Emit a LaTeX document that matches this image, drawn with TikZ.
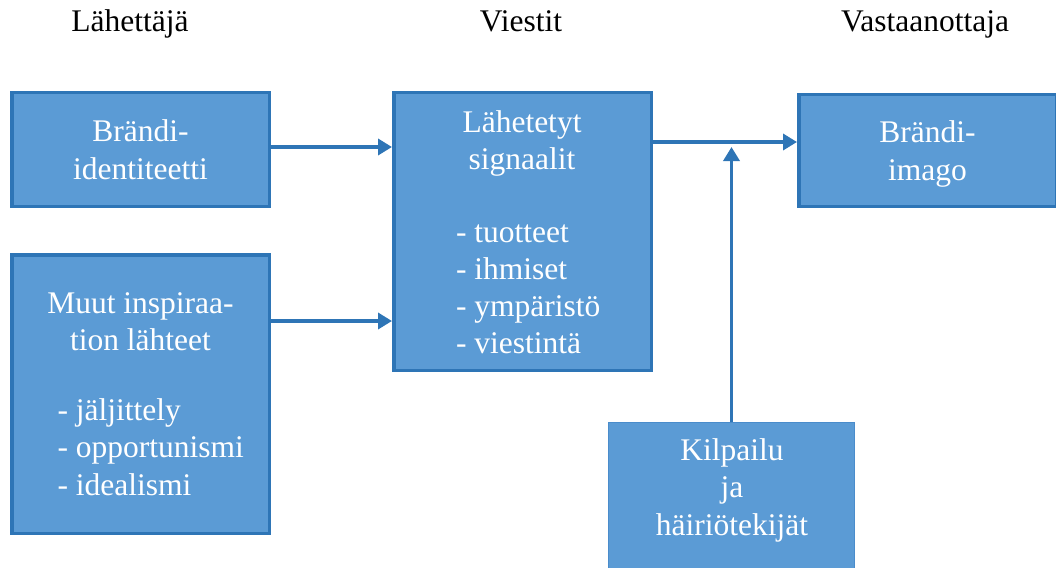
\documentclass[tikz,border=0pt]{standalone}
\usepackage{fontspec}
\setmainfont{Liberation Serif}
\usetikzlibrary{arrows.meta}
\definecolor{boxfill}{HTML}{5B9BD5}
\definecolor{boxline}{HTML}{2E75B6}
\definecolor{thinline}{HTML}{4A8CCB}
\begin{document}
\begin{tikzpicture}[x=1pt,y=-1pt,
  box/.style={draw=boxline, line width=3.5pt, fill=boxfill, minimum width=257.5pt, inner sep=0pt},
  thinbox/.style={draw=thinline, line width=1pt, fill=boxfill, minimum width=246pt, inner sep=0pt},
  txt/.style={text=white, align=center, font=\fontsize{31.5}{37.5}\selectfont, inner sep=0pt, anchor=base},
  head/.style={font=\fontsize{31.5}{37.5}\selectfont, inner sep=0pt, anchor=base},
  conn/.style={draw=boxline, line width=3.5pt, -{Triangle[length=14pt,width=16pt]}}]
\useasboundingbox (0,0) rectangle (1056,567);
\clip (0,0) rectangle (1056,567);
% headers
\node[head] (h1) at (130,32) {Lähettäjä};
\node[head] (h2) at (521,32) {Viestit};
\node[head] (h3) at (925,32) {Vastaanottaja};
% boxes
\node[box, minimum height=113.5pt] (b1) at (140.5,149.5) {};
\node[box, minimum height=278.5pt] (b2) at (140.5,394) {};
\node[box, minimum height=277.5pt] (b3) at (522.5,231.5) {};
\node[box, minimum height=111.5pt] (b4) at (927.5,150.5) {};
\node[thinbox, minimum height=156pt] (b5) at (731.5,500) {};
% texts (anchor base = baseline of last line)
\node[txt] (t1) at (140.5,179) {Brändi-\\identiteetti};
\node[txt] (t2) at (140.5,495) {Muut inspiraa-\\tion lähteet\\[32pt]\makebox[166pt][l]{- jäljittely}\\\makebox[166pt][l]{- opportunismi}\\\makebox[166pt][l]{- idealismi}};
\node[txt, font=\fontsize{31.5}{36.7}\selectfont] (t3) at (522,353) {Lähetetyt\\signaalit\\[36.7pt]\makebox[132pt][l]{- tuotteet}\\\makebox[132pt][l]{- ihmiset}\\\makebox[132pt][l]{- ympäristö}\\\makebox[132pt][l]{- viestintä}};
\node[txt] (t4) at (927.5,180) {Brändi-\\imago};
\node[txt] (t5) at (732,535) {Kilpailu\\ja\\häiriötekijät};
% connectors
\coordinate (m1) at (0,147);
\coordinate (m2) at (0,321);
\coordinate (m3) at (0,142);
\draw[conn] (b1.east |- m1) -- (b3.west |- m1);
\draw[conn] (b2.east |- m2) -- (b3.west |- m2);
\draw[conn] (b3.east |- m3) -- (b4.west |- m3);
\draw[conn, shorten >=5pt] (b5.north) -- (b5.north |- m3);
\end{tikzpicture}
\end{document}
